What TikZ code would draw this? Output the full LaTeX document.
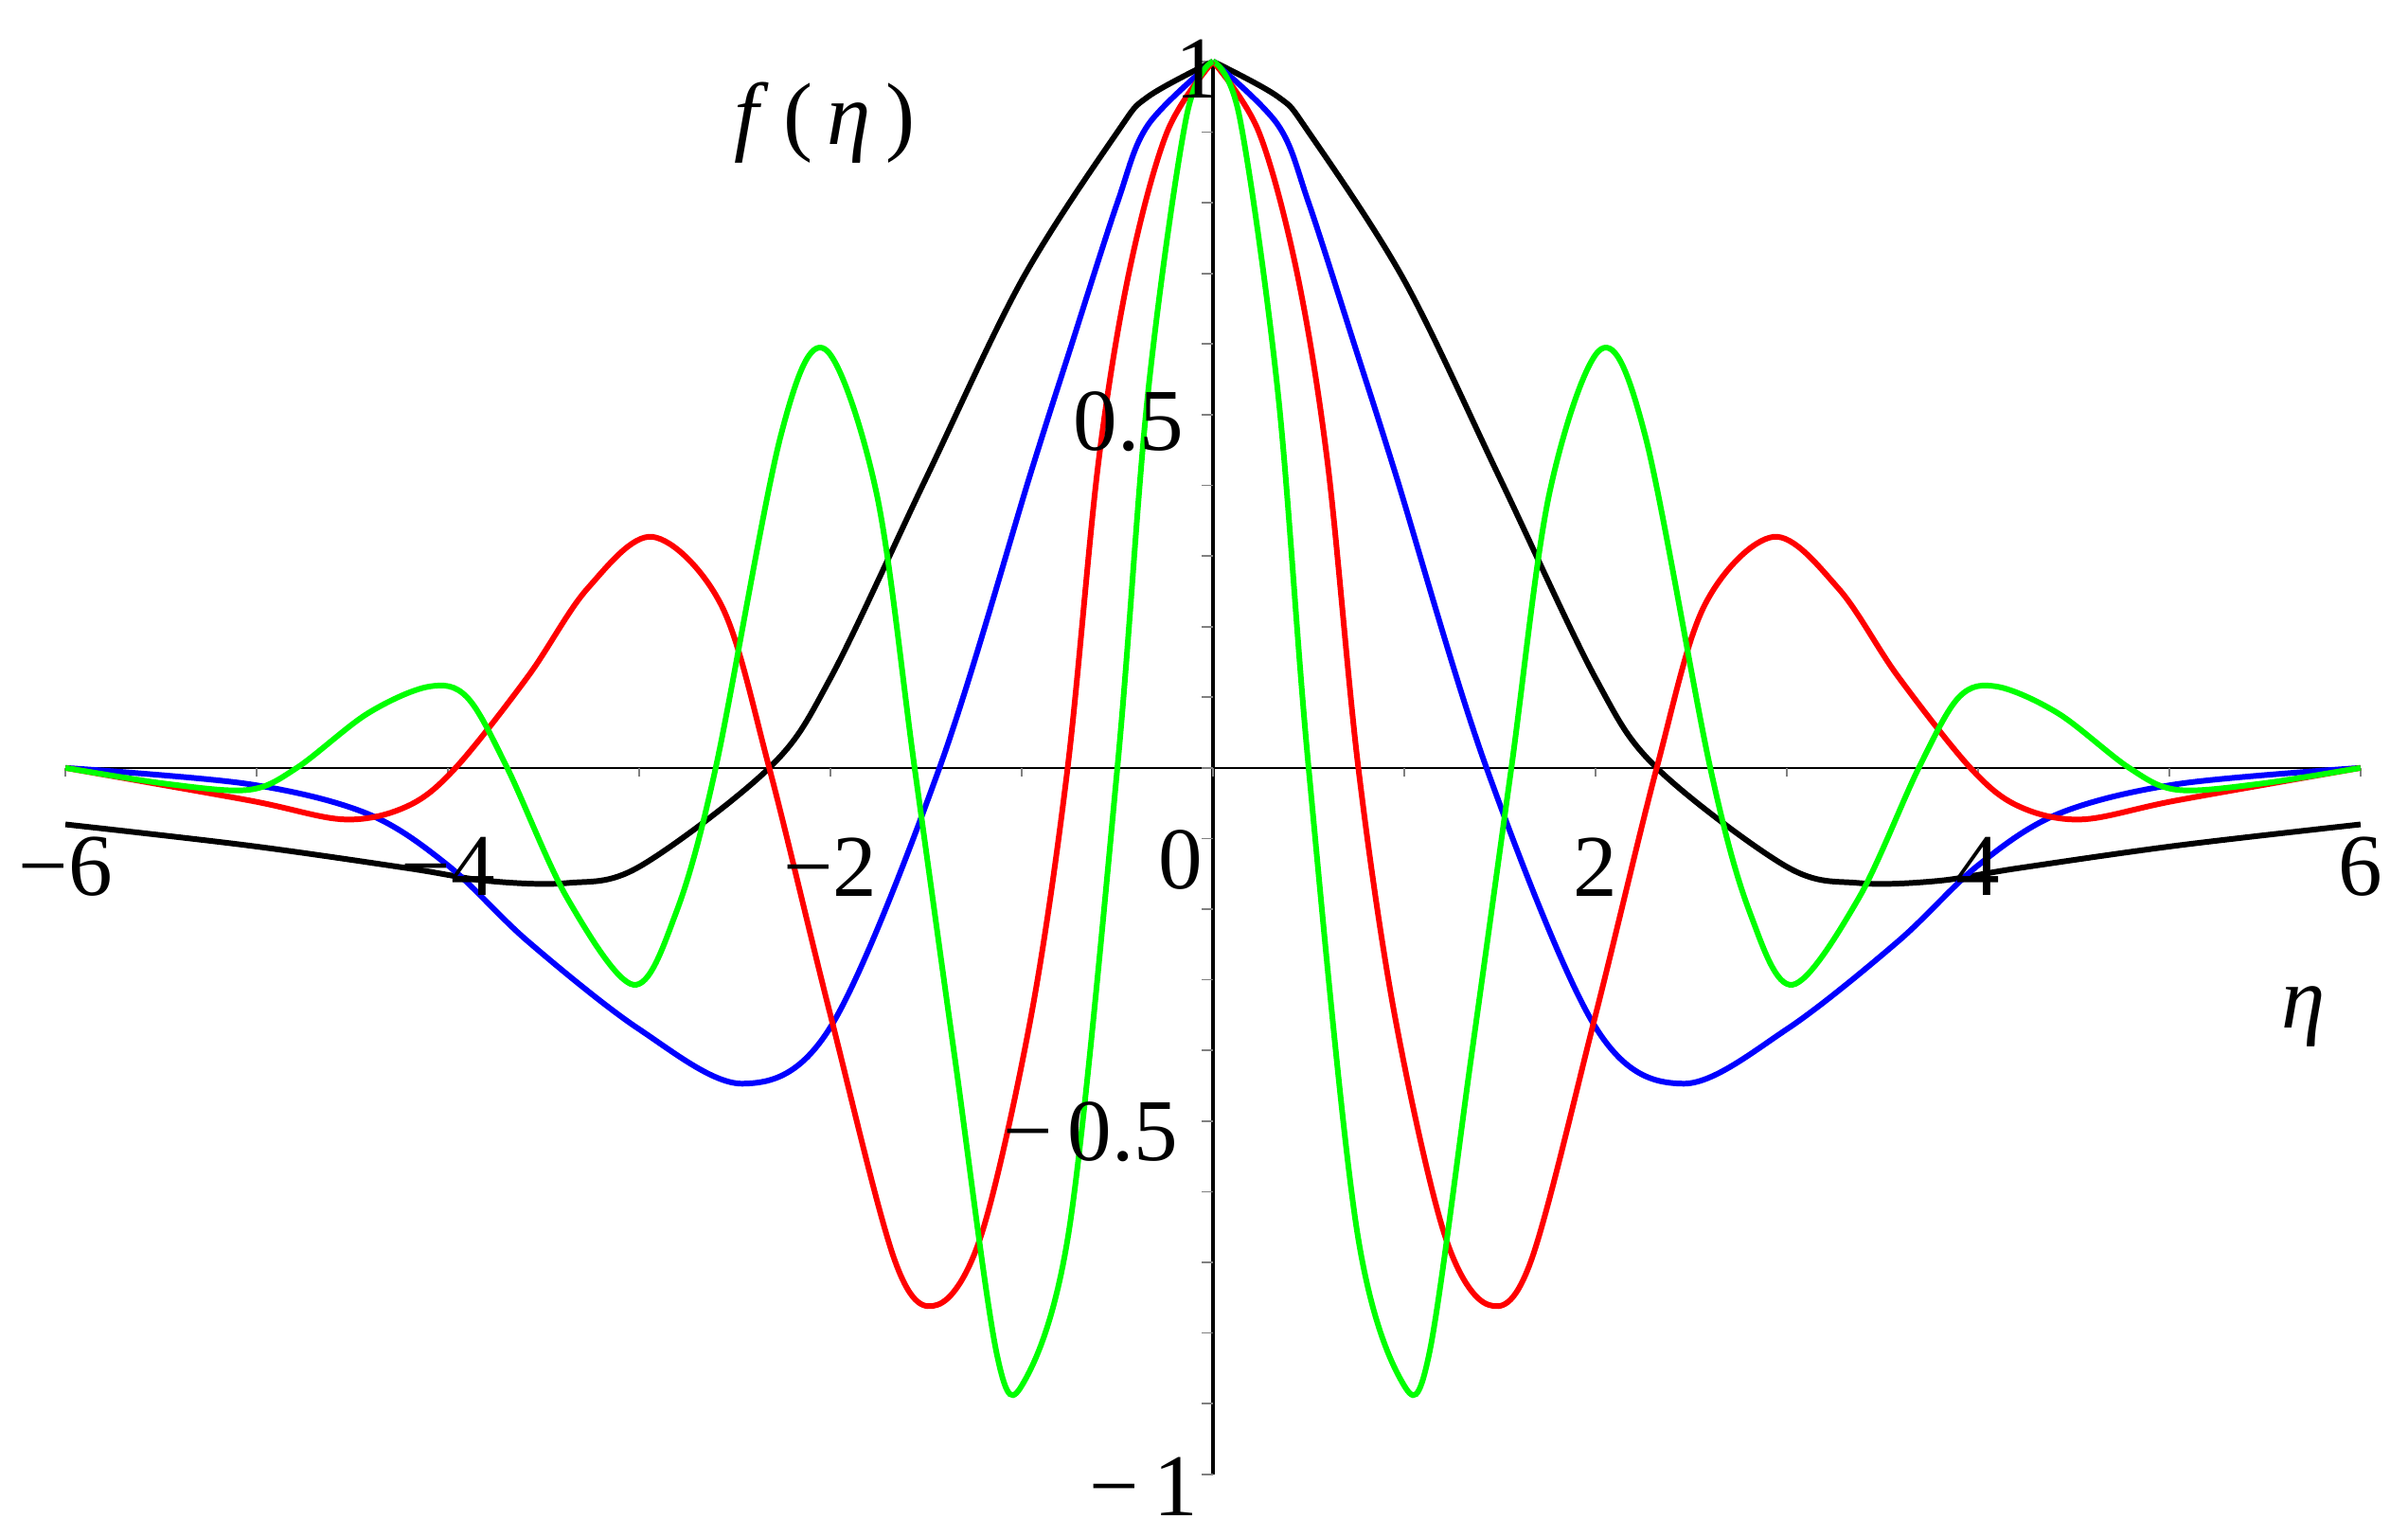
\documentclass[tikz,border=0pt]{standalone}
\usepackage{fontspec}
\setmainfont{Liberation Serif}
\begin{document}
\begin{tikzpicture}[x=4.04cm,y=14.92cm,
  curve/.style={line width=3.4pt,smooth,tension=0.55},
  lab/.style={font=\fontsize{53}{60}\selectfont,inner sep=0pt}]
\useasboundingbox (-6.342,-1.0885) rectangle (6.248,1.087);
% axes
\draw[line width=1.3pt] (-6,0) -- (6,0);
\draw[line width=2.2pt] (0,-1) -- (0,1);
\foreach \i in {-6,...,6} \draw[gray,line width=1pt] (\i,0) -- (\i,-0.012);
\foreach \j in {-10,...,10} \draw[gray,line width=1pt] (0,\j/10) -- (-0.06,\j/10);
% curves
\foreach \s in {1,-1}{
\begin{scope}[xscale=\s]
\draw[curve,black] plot coordinates {(0,1)(0.34,0.95)(0.5,0.9)(1,0.69)(1.5,0.41)(2,0.127)(2.32,0)(3,-0.14)(3.375,-0.163)(3.79,-0.16)(4.21,-0.142)(5.04,-0.11)(6,-0.08)};
\draw[curve,blue] plot coordinates {(0,1)(0.34,0.91)(0.5,0.8)(0.75,0.59)(0.95,0.42)(1.43,0)(2,-0.367)(2.46,-0.447)(3.0,-0.37)(3.58,-0.246)(4,-0.138)(4.42,-0.065)(5.04,-0.023)(6,0)};
\draw[curve,red] plot coordinates {(0,1)(0.24,0.9)(0.44,0.7)(0.6,0.43)(0.76,0)(0.95,-0.35)(1.21,-0.66)(1.44,-0.76)(1.66,-0.7)(2,-0.35)(2.32,0)(2.57,0.23)(2.93,0.327)(3.27,0.254)(3.58,0.13)(3.96,0)(4.21,-0.054)(4.54,-0.073)(5.04,-0.046)(6,0)};
\draw[curve,green] plot coordinates {(0,1)(0.14,0.92)(0.34,0.53)(0.5,0)(0.75,-0.65)(0.99,-0.87)(1.13,-0.83)(1.35,-0.41)(1.56,0)(1.76,0.39)(2.03,0.593)(2.26,0.47)(2.6,0)(2.81,-0.207)(3.03,-0.307)(3.375,-0.185)(3.69,0)(3.9,0.1)(4.1,0.115)(4.42,0.077)(4.79,0)(5.04,-0.031)(5.46,-0.023)(6,0)};
\end{scope}}
% tick labels
\foreach \v/\t in {-6/−6,-4/−4,-2/−2,2/2,4/4,6/6} \node[lab] (x\v) at (\v,-0.14) {\t};
\node[lab] (x0) at (-0.17,-0.13) {0};
\node[lab] (y1) at (-0.08,0.99) {1};
\node[lab] (y05) at (-0.44,0.49) {0.5};
\node[lab] (ym05) at (-0.64,-0.515) {−\,0.5};
\node[lab] (ym1) at (-0.36,-1.017) {−\,1};
\node[lab] (fl) at (-2.03,0.913) {\textit{f}\,(\,\textit{η}\,)};
\node[lab] (el) at (5.70,-0.352) {\textit{η}};
\end{tikzpicture}
\end{document}
